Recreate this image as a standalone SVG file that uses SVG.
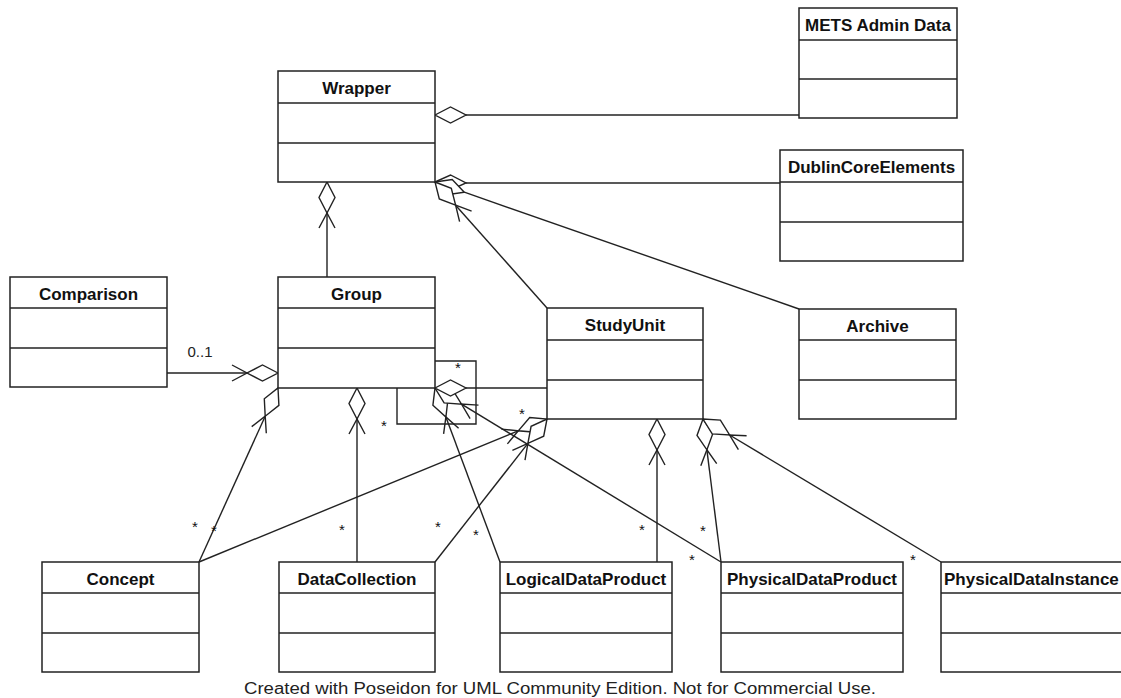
<svg xmlns="http://www.w3.org/2000/svg" width="1121" height="698" viewBox="0 0 1121 698">
  <style>
    .box { fill: #fff; stroke: #222; stroke-width: 1.5; }
    .sep { stroke: #222; stroke-width: 1.5; }
    .name { font-family: "Liberation Sans", Arial, sans-serif; font-weight: bold; font-size: 17px; fill: #111; text-anchor: middle; }
    .edge { fill: none; stroke: #222; stroke-width: 1.4; }
    .dia { fill: #fff; stroke: #222; stroke-width: 1.4; stroke-linejoin: miter; }
    .arr { fill: none; stroke: #222; stroke-width: 1.4; }
    .mult { font-family: "Liberation Sans", Arial, sans-serif; font-size: 15px; fill: #111; text-anchor: middle; }
    .label { font-family: "Liberation Sans", Arial, sans-serif; font-size: 15px; fill: #222; text-anchor: middle; }
    .foot { font-family: "Liberation Sans", Arial, sans-serif; font-size: 16px; fill: #222; text-anchor: middle; }
  </style>
  <rect width="1121" height="698" fill="#fff"/>

  <!-- associations: lines from part to diamond, diamonds at aggregate end, navigability arrows -->
  <g id="connectors">
    <!-- Wrapper - METS Admin Data -->
    <line class="edge" x1="466" y1="115" x2="799" y2="115"/>
    <polygon class="dia" points="435,115 450.5,107 466,115 450.5,123"/>
    <!-- Wrapper - DublinCoreElements -->
    <line class="edge" x1="466" y1="183" x2="780" y2="183"/>
    <polygon class="dia" points="435,182 450.5,175 466,183 450.5,190"/>
    <!-- Wrapper - Archive -->
    <line class="edge" x1="464.3" y1="192.2" x2="799" y2="309"/>
    <polygon class="dia" points="435,182 452.2,179.5 464.3,192.2 447,194.7"/>
    <!-- Wrapper - StudyUnit -->
    <line class="edge" x1="455.6" y1="205.2" x2="547" y2="308"/>
    <polygon class="dia" points="435,182 451.3,188.3 455.6,205.2 439.3,198.9"/>
    <polyline class="arr" points="459.6,221.7 455.6,205.2 471.6,211.1"/>
    <!-- Wrapper - Group -->
    <line class="edge" x1="327" y1="213" x2="327" y2="278"/>
    <polygon class="dia" points="327,182 335,197.5 327,213 319,197.5"/>
    <polyline class="arr" points="319,228 327,213 335,228"/>

    <!-- Comparison - Group -->
    <line class="edge" x1="167" y1="373" x2="247" y2="373"/>
    <polygon class="dia" points="278,373 262.5,365 247,373 262.5,381"/>
    <polyline class="arr" points="232,365 247,373 232,381"/>
    <text class="label" x="200" y="357">0..1</text>

    <!-- Group - Concept -->
    <line class="edge" x1="265.2" y1="416.2" x2="199" y2="562"/>
    <polygon class="dia" points="278,388 278.9,405.4 265.2,416.2 264.3,398.8"/>
    <polyline class="arr" points="266.3,433.2 265.2,416.2 251.7,426.6"/>
    <!-- StudyUnit - Concept -->
    <line class="edge" x1="518.3" y1="430.8" x2="199" y2="562"/>
    <polygon class="dia" points="547,419 535.7,432.3 518.3,430.8 529.7,417.5"/>
    <polyline class="arr" points="507.4,443.9 518.3,430.8 501.4,429.1"/>

    <!-- Group - DataCollection -->
    <line class="edge" x1="357" y1="419" x2="357" y2="562"/>
    <polygon class="dia" points="357,388 365,403.5 357,419 349,403.5"/>
    <polyline class="arr" points="349,434 357,419 365,434"/>
    <!-- StudyUnit - DataCollection -->
    <line class="edge" x1="527.9" y1="443.4" x2="435" y2="562"/>
    <polygon class="dia" points="547,419 543.7,436.2 527.9,443.4 531.1,426.3"/>
    <polyline class="arr" points="525,460.1 527.9,443.4 512.4,450.3"/>

    <!-- Group - LogicalDataProduct -->
    <line class="edge" x1="445.9" y1="417" x2="500" y2="562"/>
    <polygon class="dia" points="435,388 447.9,399.7 445.9,417 432.9,405.3"/>
    <polyline class="arr" points="443.6,433.9 445.9,417 458.6,428.3"/>
    <!-- StudyUnit - LogicalDataProduct -->
    <line class="edge" x1="657" y1="450" x2="657" y2="562"/>
    <polygon class="dia" points="657,419 665,434.5 657,450 649,434.5"/>
    <polyline class="arr" points="649,465 657,450 665,465"/>

    <!-- Group - PhysicalDataProduct -->
    <line class="edge" x1="461.5" y1="404.1" x2="721" y2="562"/>
    <polygon class="dia" points="435,388 452.4,389.3 461.5,404.1 444.1,402.9"/>
    <polyline class="arr" points="470.1,418.7 461.5,404.1 478.5,405.1"/>
    <!-- StudyUnit - PhysicalDataProduct -->
    <line class="edge" x1="706.9" y1="449.8" x2="721" y2="562"/>
    <polygon class="dia" points="703,419 712.9,433.4 706.9,449.8 697,435.4"/>
    <polyline class="arr" points="700.8,465.7 706.9,449.8 716.7,463.7"/>

    <!-- StudyUnit - PhysicalDataInstance -->
    <line class="edge" x1="729.6" y1="435" x2="941" y2="562"/>
    <polygon class="dia" points="703,419 720.4,420.1 729.6,435 712.2,433.9"/>
    <polyline class="arr" points="738.4,449.6 729.6,435 746.6,435.8"/>

    <!-- Group - StudyUnit -->
    <line class="edge" x1="466" y1="388" x2="547" y2="388"/>
    <polygon class="dia" points="435,388 450.5,380 466,388 450.5,396"/>

    <!-- Group - Group (self association) -->
    <polyline class="edge" points="435,361 476,361 476,424 397,424 397,388"/>

    <!-- multiplicities -->
    <text class="mult" x="195" y="532">*</text>
    <text class="mult" x="214" y="536">*</text>
    <text class="mult" x="342" y="535">*</text>
    <text class="mult" x="438" y="532">*</text>
    <text class="mult" x="476" y="540">*</text>
    <text class="mult" x="642" y="535">*</text>
    <text class="mult" x="703" y="536">*</text>
    <text class="mult" x="692" y="565">*</text>
    <text class="mult" x="913" y="565">*</text>
    <text class="mult" x="458" y="373">*</text>
    <text class="mult" x="384" y="431">*</text>
    <text class="mult" x="522" y="419">*</text>
  </g>

  <!-- classes -->
  <g id="wrapper">
    <rect class="box" x="278" y="71" width="157" height="111"/>
    <line class="sep" x1="278" y1="103" x2="435" y2="103"/>
    <line class="sep" x1="278" y1="143" x2="435" y2="143"/>
    <text class="name" x="356.5" y="94">Wrapper</text>
  </g>
  <g id="mets-admin-data">
    <rect class="box" x="799" y="8" width="158" height="110"/>
    <line class="sep" x1="799" y1="40" x2="957" y2="40"/>
    <line class="sep" x1="799" y1="79" x2="957" y2="79"/>
    <text class="name" x="878" y="31">METS Admin Data</text>
  </g>
  <g id="dublin-core-elements">
    <rect class="box" x="780" y="150" width="183" height="111"/>
    <line class="sep" x1="780" y1="182" x2="963" y2="182"/>
    <line class="sep" x1="780" y1="222" x2="963" y2="222"/>
    <text class="name" x="871.5" y="173">DublinCoreElements</text>
  </g>
  <g id="comparison">
    <rect class="box" x="10" y="277" width="157" height="110"/>
    <line class="sep" x1="10" y1="308" x2="167" y2="308"/>
    <line class="sep" x1="10" y1="348" x2="167" y2="348"/>
    <text class="name" x="88.5" y="300">Comparison</text>
  </g>
  <g id="group">
    <rect class="box" x="278" y="277" width="157" height="111"/>
    <line class="sep" x1="278" y1="308" x2="435" y2="308"/>
    <line class="sep" x1="278" y1="348" x2="435" y2="348"/>
    <text class="name" x="356.5" y="300">Group</text>
  </g>
  <g id="study-unit">
    <rect class="box" x="547" y="308" width="156" height="111"/>
    <line class="sep" x1="547" y1="340" x2="703" y2="340"/>
    <line class="sep" x1="547" y1="380" x2="703" y2="380"/>
    <text class="name" x="625" y="331">StudyUnit</text>
  </g>
  <g id="archive">
    <rect class="box" x="799" y="309" width="157" height="110"/>
    <line class="sep" x1="799" y1="340" x2="956" y2="340"/>
    <line class="sep" x1="799" y1="380" x2="956" y2="380"/>
    <text class="name" x="877.5" y="332">Archive</text>
  </g>
  <g id="concept">
    <rect class="box" x="42" y="562" width="157" height="110"/>
    <line class="sep" x1="42" y1="593" x2="199" y2="593"/>
    <line class="sep" x1="42" y1="633" x2="199" y2="633"/>
    <text class="name" x="120.5" y="585">Concept</text>
  </g>
  <g id="data-collection">
    <rect class="box" x="279" y="562" width="156" height="110"/>
    <line class="sep" x1="279" y1="593" x2="435" y2="593"/>
    <line class="sep" x1="279" y1="633" x2="435" y2="633"/>
    <text class="name" x="357" y="585">DataCollection</text>
  </g>
  <g id="logical-data-product">
    <rect class="box" x="500" y="562" width="172" height="110"/>
    <line class="sep" x1="500" y1="593" x2="672" y2="593"/>
    <line class="sep" x1="500" y1="633" x2="672" y2="633"/>
    <text class="name" x="586" y="585">LogicalDataProduct</text>
  </g>
  <g id="physical-data-product">
    <rect class="box" x="721" y="562" width="182" height="110"/>
    <line class="sep" x1="721" y1="593" x2="903" y2="593"/>
    <line class="sep" x1="721" y1="633" x2="903" y2="633"/>
    <text class="name" x="812" y="585">PhysicalDataProduct</text>
  </g>
  <g id="physical-data-instance">
    <rect class="box" x="941" y="562" width="190" height="110"/>
    <line class="sep" x1="941" y1="593" x2="1131" y2="593"/>
    <line class="sep" x1="941" y1="633" x2="1131" y2="633"/>
    <text class="name" x="944" y="585" style="text-anchor:start">PhysicalDataInstance</text>
  </g>

  <text class="foot" x="560" y="694" textLength="632" lengthAdjust="spacingAndGlyphs">Created with Poseidon for UML Community Edition. Not for Commercial Use.</text>
</svg>
